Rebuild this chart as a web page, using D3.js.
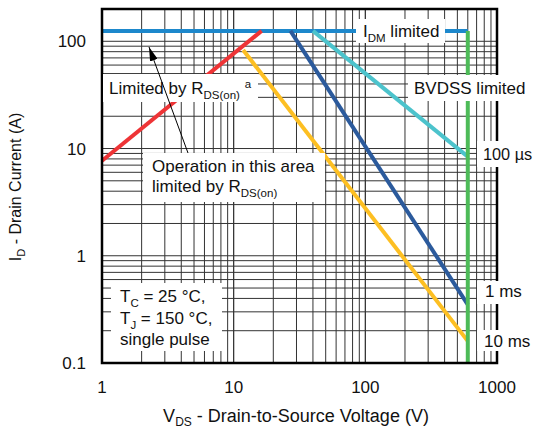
<!DOCTYPE html>
<html>
<head>
<meta charset="utf-8">
<script src="https://cdn.jsdelivr.net/npm/d3@7"></script>
<style>
  body { margin: 0; background: #fff; }
  svg { font-family: "Liberation Sans", Arial, sans-serif; }
</style>
</head>
<body>
<svg width="533" height="428"></svg>
<script>
// axis ticks
const xTicks = [1, 10, 100, 1000]
const xTickLabels = ["1", "10", "100", "1000"]
const yTicks = [0.1, 1, 10, 100]
const yTickLabels = ["0.1", "1", "10", "100"]

// limit lines, [V, A]
const idmLimit = [[1, 125], [600, 125]]
const rdsLimit = [[1, 7.7], [16.3, 125]]
const pulse100us = [[40, 125], [600, 8.4]]
const pulse1ms = [[27, 125], [600, 0.35]]
const pulse10ms = [[11.8, 83], [600, 0.16]]
const bvdssLimit = [[600, 125], [600, 0.1]]

const svg = d3.select("svg")

const x = d3.scaleLog().domain([1, 1000]).range([102, 497])
const y = d3.scaleLog().domain([0.1, 200]).range([363, 9])

const g = svg.append("g")

// grid
const xGrid = []
for (let d = 1; d < 1000; d *= 10)
  for (let k = 1; k <= 10; k++) xGrid.push(d * k)
const yGrid = []
for (let d = 0.1; d < 100; d *= 10)
  for (let k = 1; k < 10; k++) yGrid.push(+(d * k).toPrecision(3))
yGrid.push(100, 200)

g.selectAll("line.vg").data(xGrid).join("line")
  .attr("class", "vg")
  .attr("x1", d => x(d)).attr("x2", d => x(d))
  .attr("y1", y(0.1)).attr("y2", y(200))
  .attr("stroke", "#333").attr("stroke-width", 1)

g.selectAll("line.hg").data(yGrid).join("line")
  .attr("class", "hg")
  .attr("y1", d => y(d)).attr("y2", d => y(d))
  .attr("x1", x(1)).attr("x2", x(1000))
  .attr("stroke", "#333").attr("stroke-width", 1)

// limit lines
const line = d3.line().x(d => x(d[0])).y(d => y(d[1]))
const series = [
  [idmLimit, "#1d88cc"],
  [rdsLimit, "#ee3436"],
  [pulse10ms, "#fdbf22"],
  [pulse1ms, "#2b5a9c"],
  [pulse100us, "#4cc3cc"],
  [bvdssLimit, "#4dbb58"]
]
for (const [pts, color] of series) {
  g.append("path")
    .attr("d", line(pts))
    .attr("fill", "none")
    .attr("stroke", color)
    .attr("stroke-width", 4)
}

// frame
g.append("rect")
  .attr("x", x(1)).attr("y", y(200))
  .attr("width", x(1000) - x(1)).attr("height", y(0.1) - y(200))
  .attr("fill", "none").attr("stroke", "#000").attr("stroke-width", 2.5)

// label boxes
const box = (x0, y0, w, h) => g.append("rect")
  .attr("x", x0).attr("y", y0).attr("width", w).attr("height", h)
  .attr("fill", "#fff")

function label(px, py, parts, size) {
  const t = g.append("text").attr("x", px).attr("y", py)
    .attr("font-size", size || 17).attr("fill", "#111")
  let shift = 0
  for (const [s, kind] of parts) {
    const sp = t.append("tspan").text(s)
    if (kind == "sub") {
      sp.attr("font-size", 11.5).attr("dy", 5 - shift); shift = 5
    } else if (kind == "sup") {
      sp.attr("font-size", 11.5).attr("dy", -6 - shift); shift = -6
    } else {
      sp.attr("dy", -shift); shift = 0
    }
  }
  return t
}

box(356, 19, 89, 24)
label(363, 36.5, [["I"], ["DM", "sub"], [" limited"]])

box(408, 75, 125, 26)
label(414, 94, [["BVDSS limited"]])

box(477, 141, 56, 26)
label(483, 160, [["100 µs"]], 16.3)

box(477, 281, 56, 23)
label(485, 297, [["1 ms"]])

box(477, 330, 56, 21)
label(484, 347, [["10 ms"]])

box(103, 74, 155, 28)
label(109, 94, [["Limited by R"], ["DS(on)", "sub"], [" "], ["a", "sup"]])

// arrow
svg.append("defs").append("marker")
  .attr("id", "head").attr("viewBox", "0 0 14 8")
  .attr("refX", 14).attr("refY", 4)
  .attr("markerWidth", 14).attr("markerHeight", 8)
  .attr("markerUnits", "userSpaceOnUse")
  .attr("orient", "auto")
  .append("path").attr("d", "M0,0 L14,4 L0,8 Z").attr("fill", "#000")

g.append("line")
  .attr("x1", 188).attr("y1", 153).attr("x2", 149).attr("y2", 47)
  .attr("stroke", "#000").attr("stroke-width", 1)
  .attr("marker-end", "url(#head)")

box(143, 153, 182, 49)
label(152, 172, [["Operation in this area"]])
label(152, 192, [["limited by R"], ["DS(on)", "sub"]])

box(111, 283, 111, 68)
label(120, 302, [["T"], ["C", "sub"], [" = 25 °C,"]])
label(120, 324, [["T"], ["J", "sub"], [" = 150 °C,"]])
label(120, 345, [["single pulse"]])

// tick labels
svg.selectAll("text.xt").data(xTicks).join("text")
  .attr("class", "xt")
  .attr("x", d => x(d)).attr("y", 393)
  .attr("text-anchor", "middle").attr("font-size", 17).attr("fill", "#111")
  .text((d, i) => xTickLabels[i])

svg.selectAll("text.yt").data(yTicks).join("text")
  .attr("class", "yt")
  .attr("x", 86).attr("y", d => y(d) + 6)
  .attr("text-anchor", "end").attr("font-size", 17).attr("fill", "#111")
  .text((d, i) => yTickLabels[i])

// axis titles
const xt = svg.append("text").attr("x", 296).attr("y", 422)
  .attr("text-anchor", "middle").attr("font-size", 18).attr("fill", "#111")
xt.append("tspan").text("V")
xt.append("tspan").text("DS").attr("font-size", 12).attr("dy", 4)
xt.append("tspan").text(" - Drain-to-Source Voltage (V)").attr("dy", -4)

const yt = svg.append("text")
  .attr("transform", "translate(21,187) rotate(-90)")
  .attr("text-anchor", "middle").attr("font-size", 16).attr("fill", "#111")
yt.append("tspan").text("I")
yt.append("tspan").text("D").attr("font-size", 11).attr("dy", 4)
yt.append("tspan").text(" - Drain Current (A)").attr("dy", -4)
</script>
</body>
</html>
